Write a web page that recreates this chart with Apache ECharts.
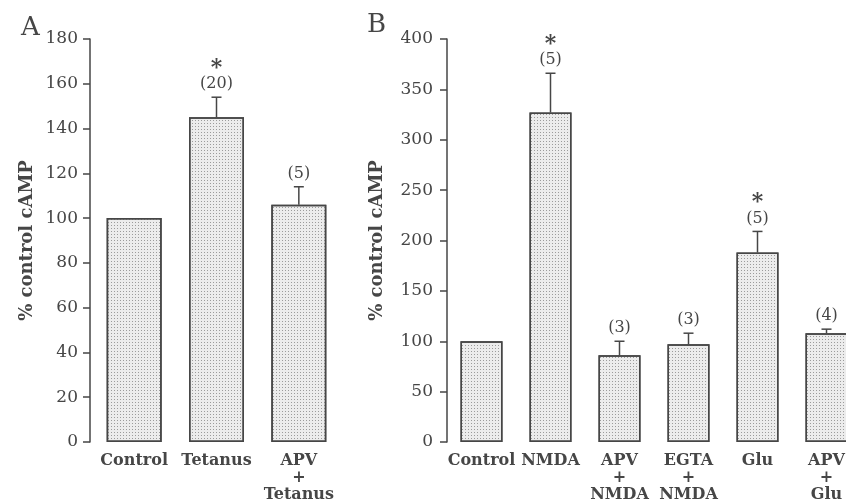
<!DOCTYPE html>
<html>
<head>
<meta charset="utf-8">
<script src="https://cdn.jsdelivr.net/npm/echarts@6/dist/echarts.min.js"></script>
<style>
  html, body { margin: 0; padding: 0; background: #fff; overflow: hidden; }
  /* the original figure is cut at the right edge, so the canvas runs past the window */
  #chart { width: 870px; height: 503px; }
</style>
</head>
<body>
<div id="chart"></div>
<script>
// panel A
var catsA = ['Control', 'Tetanus', 'APV\n+\nTetanus'];
var meanA = [100, 145, 106];
var errA = [0, 9, 8];
var nA = ['', '(20)', '(5)'];
var sigA = [false, true, false];
var ticksA = [0, 20, 40, 60, 80, 100, 120, 140, 160, 180];

// panel B
var catsB = ['Control', 'NMDA', 'APV\n+\nNMDA', 'EGTA\n+\nNMDA', 'Glu', 'APV\n+\nGlu'];
var meanB = [100, 327, 86, 97, 188, 108];
var errB = [0, 39, 14, 11, 21, 4];
var nB = ['', '(5)', '(3)', '(3)', '(5)', '(4)'];
var sigB = [false, true, false, false, true, false];
var ticksB = [0, 50, 100, 150, 200, 250, 300, 350, 400];

var ink = '#464646';
var serif = 'DejaVu Serif';

var barStyle = {
	color: '#ececec',
	borderColor: ink,
	borderWidth: 1.5,
	decal: {
		symbol: 'rect',
		symbolSize: 1,
		color: 'rgba(90,90,90,0.55)',
		dashArrayX: [1, 2],
		dashArrayY: [1, 2]
	}
};

function errRenderer(means, errs, ns, sigs) {
	return function(params, api) {
		var i = params.dataIndex;
		var kids = [];
		var top = api.coord([i, means[i] + errs[i]]);
		if (errs[i] > 0) {
			var base = api.coord([i, means[i]]);
			kids.push({ type: 'line', shape: { x1: base[0], y1: base[1], x2: top[0], y2: top[1] },
				style: { stroke: ink, lineWidth: 1.5 } });
			kids.push({ type: 'line', shape: { x1: top[0] - 5, y1: top[1], x2: top[0] + 5, y2: top[1] },
				style: { stroke: ink, lineWidth: 1.5 } });
		}
		if (ns[i]) {
			kids.push({ type: 'text', x: top[0], y: top[1] - 13,
				style: { text: ns[i], font: '16px "' + serif + '"', fill: ink, align: 'center', verticalAlign: 'middle' } });
		}
		if (sigs[i]) {
			kids.push({ type: 'text', x: top[0], y: top[1] - 29,
				style: { text: '*', font: 'bold 22px "' + serif + '"', fill: ink, align: 'center', verticalAlign: 'middle' } });
		}
		return { type: 'group', children: kids };
	};
}

function yAxisOf(idx, max, step, gap, offset, margin) {
	return {
		type: 'value', gridIndex: idx, min: 0, max: max, interval: step, offset: offset,
		name: '% control cAMP', nameLocation: 'middle', nameGap: gap,
		nameTextStyle: { fontFamily: serif, fontWeight: 'bold', fontSize: 18, color: ink },
		axisLine: { show: true, lineStyle: { color: ink, width: 1.5 } },
		axisTick: { show: true, length: 7, lineStyle: { color: ink, width: 1.5 } },
		axisLabel: { margin: margin, fontFamily: serif, fontSize: 17, color: ink },
		splitLine: { show: false }
	};
}

function xAxisOf(idx, cats) {
	return {
		type: 'category', gridIndex: idx, data: cats,
		axisLine: { show: false }, axisTick: { show: false },
		axisLabel: { margin: 10, interval: 0, fontFamily: serif, fontWeight: 'bold', fontSize: 16,
			color: ink, lineHeight: 17 }
	};
}

var myChart = echarts.init(document.getElementById('chart'));
myChart.setOption({
	backgroundColor: '#fff',
	animation: false,
	title: [
		{ text: 'A', left: 16, top: 10, textStyle: { fontFamily: serif, fontWeight: 'normal', fontSize: 26, color: ink } },
		{ text: 'B', left: 362, top: 7, textStyle: { fontFamily: serif, fontWeight: 'normal', fontSize: 26, color: ink } }
	],
	grid: [
		{ left: 93, top: 39, width: 247, bottom: 60 },
		{ left: 447, top: 39, width: 414, bottom: 60 }
	],
	xAxis: [xAxisOf(0, catsA), xAxisOf(1, catsB)],
	yAxis: [yAxisOf(0, 180, 20, 54, 3, 12), yAxisOf(1, 400, 50, 61, 0, 14)],
	series: [
		{ type: 'bar', xAxisIndex: 0, yAxisIndex: 0, data: meanA, barWidth: 55, itemStyle: barStyle },
		{ type: 'custom', xAxisIndex: 0, yAxisIndex: 0, data: meanA, renderItem: errRenderer(meanA, errA, nA, sigA), z: 5 },
		{ type: 'bar', xAxisIndex: 1, yAxisIndex: 1, data: meanB, barWidth: 42, itemStyle: barStyle },
		{ type: 'custom', xAxisIndex: 1, yAxisIndex: 1, data: meanB, renderItem: errRenderer(meanB, errB, nB, sigB), z: 5 }
	]
});
</script>
</body>
</html>
